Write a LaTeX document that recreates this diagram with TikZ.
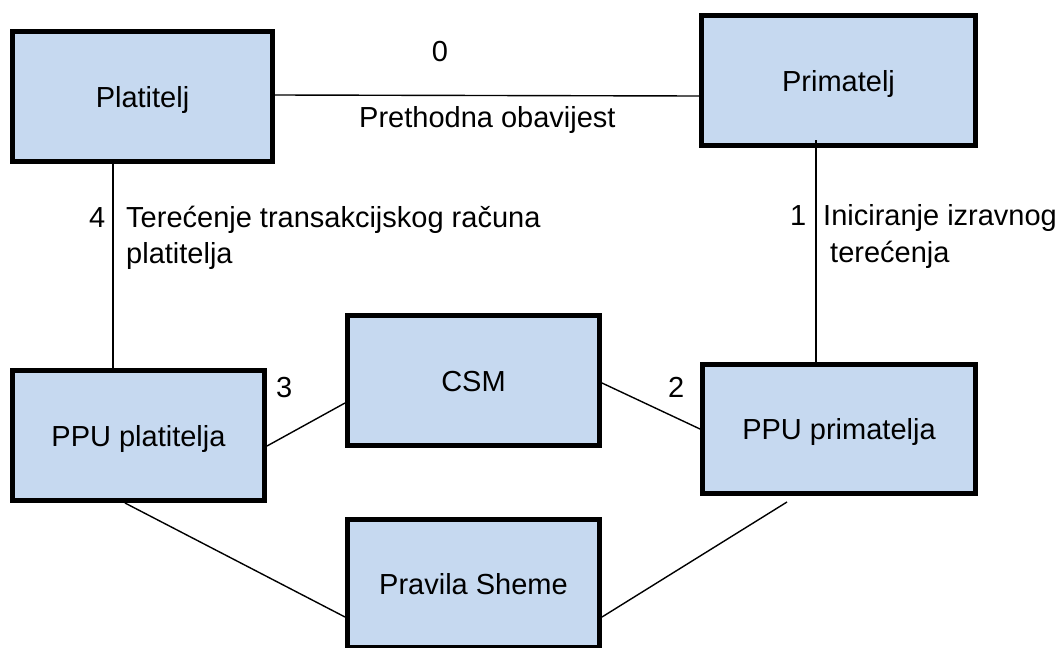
\documentclass[tikz,border=0pt]{standalone}
\usepackage{fontspec}
\setmainfont{Liberation Sans}
\definecolor{boxfill}{RGB}{198,217,240}
\tikzset{
  blockbox/.style={draw=black, line width=5pt, fill=boxfill, rectangle, inner sep=0pt,
    text height=21pt, text depth=0pt, font=\fontsize{29}{35}\selectfont},
  lbl/.style={inner sep=0pt, anchor=base west, font=\fontsize{29}{35}\selectfont},
  conn/.style={draw=black, line width=1.4pt}
}
\begin{document}
\begin{tikzpicture}[x=1pt,y=-1pt]
\useasboundingbox (0,0) rectangle (1058,648);
\begin{scope}
\clip (0,0) rectangle (1058,648);
\node[blockbox, minimum width=260pt, minimum height=130pt] (pl) at (142.5,96.5) {Platitelj};
\node[blockbox, minimum width=274pt, minimum height=130pt] (pr) at (838.5,80.5) {Primatelj};
\node[blockbox, minimum width=252pt, minimum height=130pt] (ppupl) at (138.5,435.5) {PPU platitelja};
\node[blockbox, minimum width=252pt, minimum height=130pt] (csm) at (473.5,380.5) {CSM};
\node[blockbox, minimum width=273pt, minimum height=129pt] (ppupr) at (839,429) {PPU primatelja};
\node[blockbox, minimum width=252pt, minimum height=128pt] (ps) at (473.5,583.5) {Pravila Sheme};
\end{scope}

\draw[conn] ([yshift=1.5pt]pl.east) -- ([yshift=-15.5pt]pr.west);
\draw[conn] ([xshift=-29.5pt]pl.south) -- ([xshift=-25.5pt]ppupl.north);
\draw[conn] ([xshift=-22.5pt,yshift=8pt]pr.south) -- ([xshift=-23pt]ppupr.north);
\draw[conn] ([yshift=-10.5pt]ppupl.east) -- ([yshift=-22.5pt]csm.west);
\draw[conn] ([yshift=-2.5pt]csm.east) -- (ppupr.west);
\draw[conn] ([xshift=-13.5pt]ppupl.south) -- ([yshift=-33.5pt]ps.west);
\draw[conn] ([xshift=-52pt,yshift=-6pt]ppupr.south) -- ([yshift=-33.5pt]ps.east);

\node[lbl, anchor=base] (l0) at (440,61) {0};
\node[lbl] (lpo) at (359,127) {Prethodna obavijest};
\node[lbl] (l4) at (89,227) {4};
\node[lbl] (l4a) at (126,227) {Terećenje transakcijskog računa};
\node[lbl] (l4b) at (126,263) {platitelja};
\node[lbl] (l1) at (790,225) {1};
\node[lbl] (l1a) at (823,225) {Iniciranje izravnog};
\node[lbl] (l1b) at (830,262) {terećenja};
\node[lbl] (l3) at (276,397) {3};
\node[lbl] (l2) at (668,397) {2};
\end{tikzpicture}
\end{document}
